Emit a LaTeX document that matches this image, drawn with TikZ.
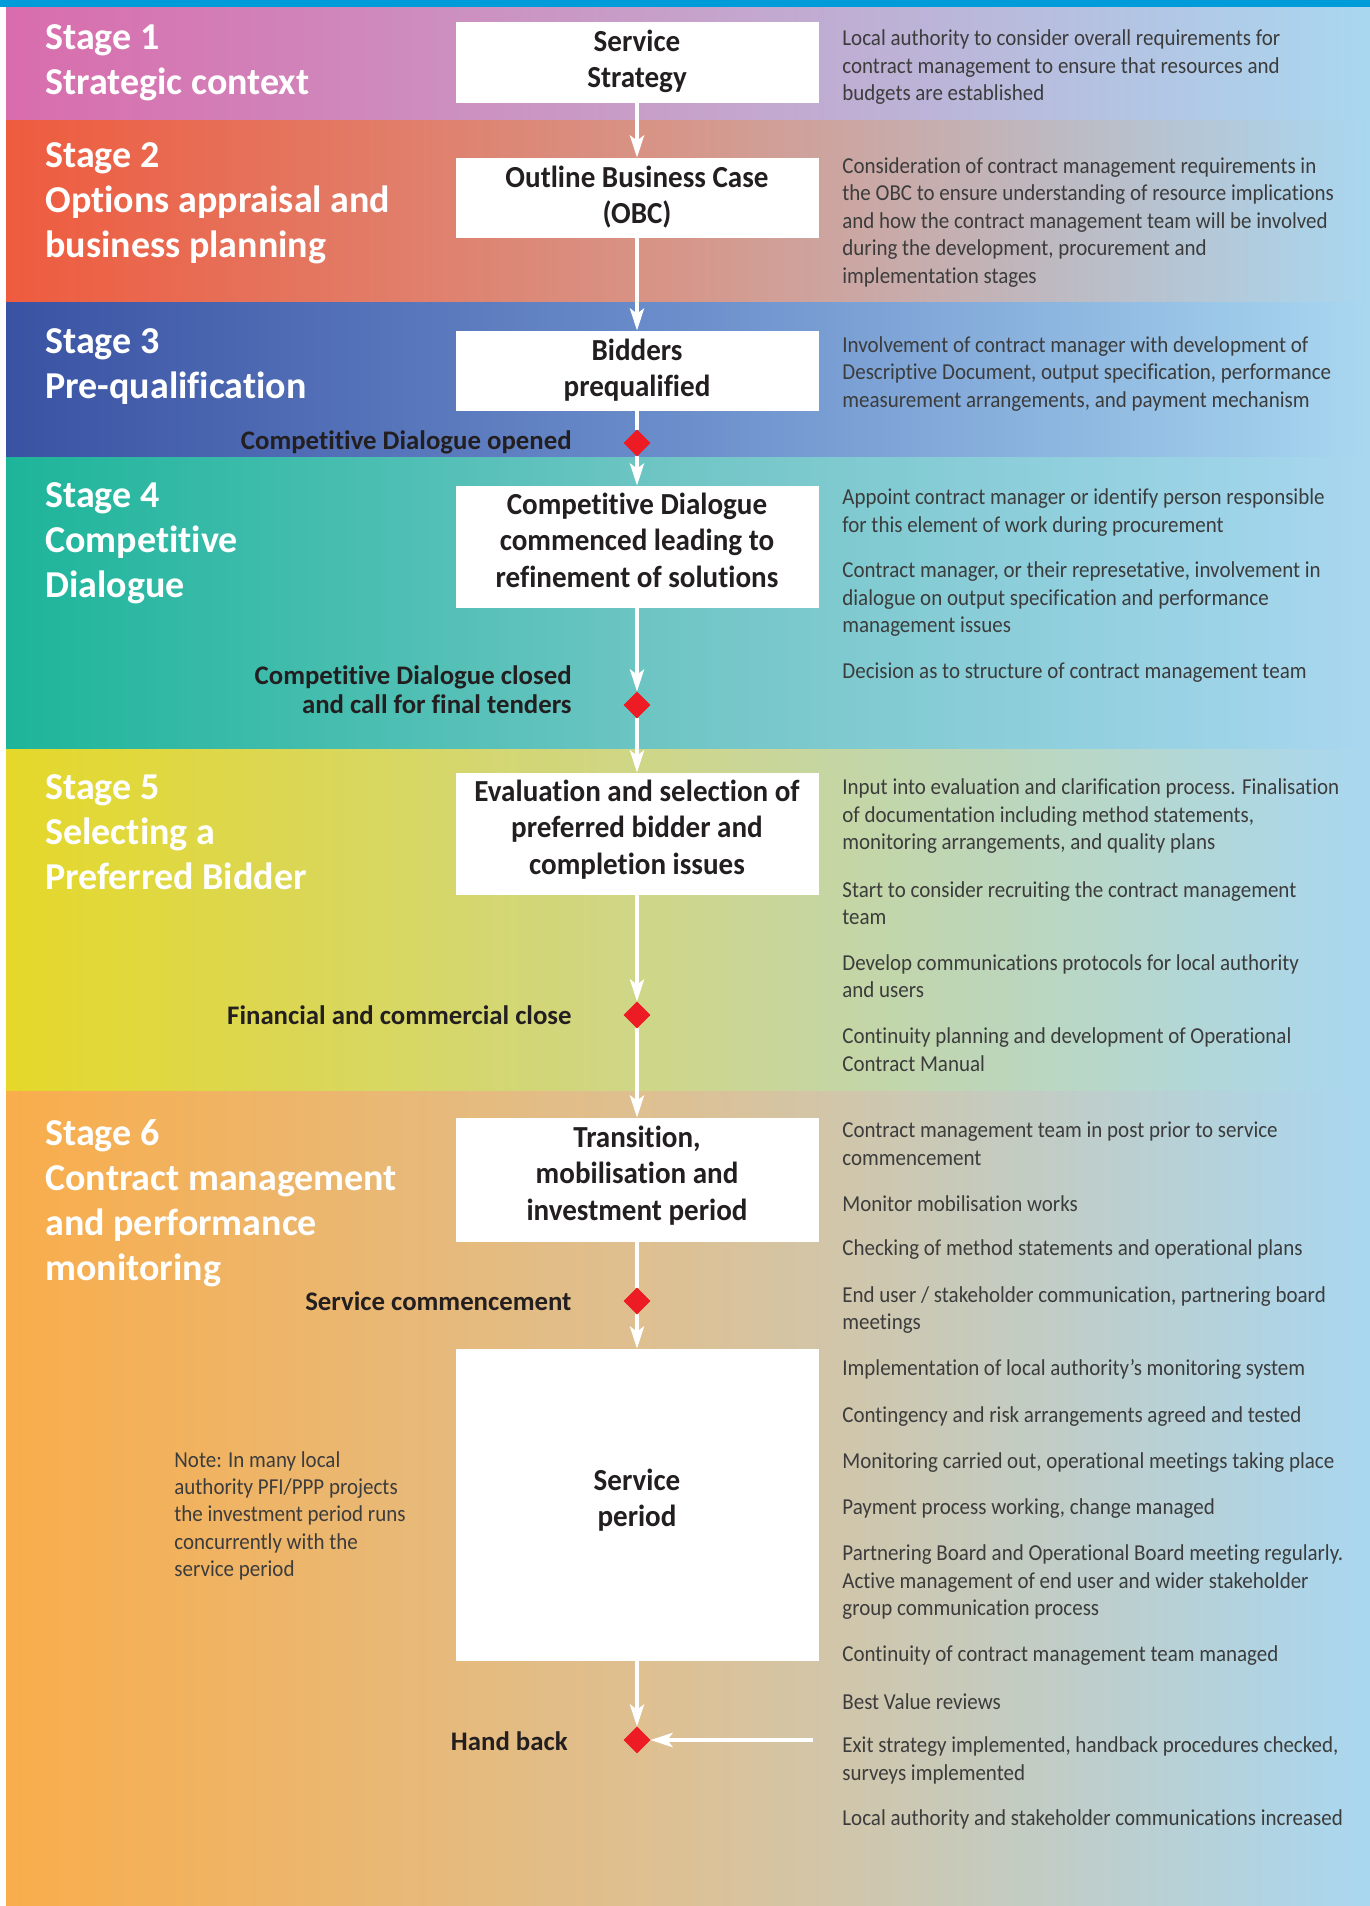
\documentclass[tikz,border=0pt]{standalone}
\usepackage{fontspec}
\defaultfontfeatures{Ligatures={TeX,NoCommon}}
\setmainfont{Carlito}
\newfontfamily\infofont[FakeStretch=0.92]{Carlito}
\newfontfamily\boxfont[FakeStretch=0.95]{Carlito}
\usepackage{tikz}
\usepackage{xcolor}
\usetikzlibrary{shapes,arrows,arrows.meta,positioning,calc}
\definecolor{topBlue}{RGB}{0,155,217}
\definecolor{paleBlue}{RGB}{169,215,240}
\definecolor{stageOne}{RGB}{217,108,172}
\definecolor{stageOneMid}{RGB}{198,162,203}
\definecolor{stageTwo}{RGB}{239,91,62}
\definecolor{stageTwoMid}{RGB}{214,151,138}
\definecolor{stageThree}{RGB}{58,82,163}
\definecolor{stageThreeMid}{RGB}{108,143,204}
\definecolor{stageFour}{RGB}{29,181,154}
\definecolor{stageFourMid}{RGB}{114,198,198}
\definecolor{stageFive}{RGB}{229,216,42}
\definecolor{stageFiveMid}{RGB}{205,214,142}
\definecolor{stageSix}{RGB}{249,173,75}
\definecolor{stageSixMid}{RGB}{220,193,150}
\definecolor{milestoneRed}{RGB}{237,28,36}
\definecolor{inkGrey}{RGB}{60,60,60}
\definecolor{inkBlack}{RGB}{35,31,32}

\begin{document}
\begin{tikzpicture}[x=0.5pt,y=-0.5pt,
    stagebox/.style={fill=white,minimum width=181.5pt,inner sep=0pt,align=center,text=inkBlack,
        text depth=7pt,font=\boxfont\bfseries\fontsize{15.3}{18.2}\selectfont},
    milestone/.style={diamond,fill=milestoneRed,inner sep=0pt,minimum width=13pt,minimum height=13pt},
    flow/.style={white,line width=2pt,-{Stealth[length=11pt,width=7pt,inset=2.5pt]}},
    link/.style={white,line width=2pt},
    stagetitle/.style={anchor=west,inner sep=0pt,align=left,text=white,
        font=\bfseries\fontsize{19}{22.5}\selectfont},
    infotext/.style={anchor=west,inner sep=0pt,align=left,text=inkGrey,
        font=\infofont\fontsize{11.4}{13.7}\selectfont},
    eventlabel/.style={anchor=east,inner sep=0pt,align=right,text=inkBlack,
        font=\bfseries\fontsize{13.4}{14.5}\selectfont}]
    \useasboundingbox (0,0) rectangle (1370,1906);

    % stage bands
    \fill[topBlue] (0,0) rectangle (1370,7);
    \fill[left color=stageOne,right color=paleBlue,middle color=stageOneMid] (6,7) rectangle (1370,120);
    \fill[left color=stageTwo,right color=paleBlue,middle color=stageTwoMid] (6,120) rectangle (1370,302);
    \fill[left color=stageThree,right color=paleBlue,middle color=stageThreeMid] (6,302) rectangle (1370,457);
    \fill[left color=stageFour,right color=paleBlue,middle color=stageFourMid] (6,457) rectangle (1370,749);
    \fill[left color=stageFive,right color=paleBlue,middle color=stageFiveMid] (6,749) rectangle (1370,1091);
    \fill[left color=stageSix,right color=paleBlue,middle color=stageSixMid] (6,1091) rectangle (1370,1906);

    % stage titles
    \node[stagetitle] (t1) at (45,63) {Stage 1\\Strategic context};
    \node[stagetitle] (t2) at (45,203.4) {Stage 2\\Options appraisal and\\business planning};
    \node[stagetitle] (t3) at (45,366.9) {Stage 3\\Pre-qualification};
    \node[stagetitle] (t4) at (45,543.7) {Stage 4\\Competitive\\Dialogue};
    \node[stagetitle] (t5) at (45,832.4) {Stage 5\\Selecting a\\Preferred Bidder};
    \node[stagetitle] (t6) at (45,1203.2) {Stage 6\\Contract management\\and performance\\monitoring};

    % process boxes
    \node[stagebox,text depth=3.5pt,minimum height=40.5pt] (strategy) at (637,62.5) {Service\\Strategy};
    \node[stagebox,text depth=3.5pt,minimum height=40pt] (obc) at (637,198) {Outline Business Case\\(OBC)};
    \node[stagebox,text depth=3.5pt,minimum height=40pt] (bidders) at (637,371) {Bidders\\prequalified};
    \node[stagebox,minimum height=61pt] (dialogue) at (637,547) {Competitive Dialogue\\commenced leading to\\refinement of solutions};
    \node[stagebox,minimum height=61pt] (evaluation) at (637,834) {Evaluation and selection of\\preferred bidder and\\completion issues};
    \node[stagebox,minimum height=62pt] (transition) at (637,1180) {Transition,\\mobilisation and\\investment period};
    \node[stagebox,minimum height=156pt] (service) at (637,1505) {Service\\period};

    % milestones
    \node[milestone] (dopen) at (637,443) {};
    \node[milestone] (dclose) at (637,705) {};
    \node[milestone] (dfinance) at (637,1015) {};
    \node[milestone] (dservice) at (637,1301) {};
    \node[milestone] (dhand) at (637,1740) {};

    \node[eventlabel] (lopen) at (572,442.5) {Competitive Dialogue opened};
    \node[eventlabel] (lclose) at (572,689.2) {Competitive Dialogue closed\\and call for final tenders};
    \node[eventlabel] (lfinance) at (572,1015) {Financial and commercial close};
    \node[eventlabel] (lservice) at (572,1300.7) {Service commencement};
    \node[eventlabel] (lhand) at (568,1740.7) {Hand back};

    % connectors
    \draw[flow] (strategy) -- (obc);
    \draw[flow] (obc) -- (bidders);
    \draw[link] (bidders) -- (dopen);
    \draw[flow] (dopen) -- (dialogue);
    \draw[flow] (dialogue) -- (dclose);
    \draw[flow] (dclose) -- (evaluation);
    \draw[flow] (evaluation) -- (dfinance);
    \draw[flow] (dfinance) -- (transition);
    \draw[link] (transition) -- (dservice);
    \draw[flow] (dservice) -- (service);
    \draw[flow] (service) -- (dhand);
    \coordinate (handstart) at (813,1740);
    \draw[flow] (handstart) -- (dhand);

    % redraw milestones on top
    \foreach \m in {dopen,dclose,dfinance,dservice,dhand}
        \fill[milestoneRed] (\m.north) -- (\m.east) -- (\m.south) -- (\m.west) -- cycle;

    % right-hand notes
    \node[infotext] (i1) at (842,67.2) {Local authority to consider overall requirements for\\contract management to ensure that resources and\\budgets are established};
    \node[infotext] (i2) at (842,222.4) {Consideration of contract management requirements in\\the OBC to ensure understanding of resource implications\\and how the contract management team will be involved\\during the development, procurement and\\implementation stages};
    \node[infotext] (i3) at (842,373.8) {Involvement of contract manager with development of\\Descriptive Document, output specification, performance\\measurement arrangements, and payment mechanism};
    \node[infotext] (i4a) at (842,512.4) {Appoint contract manager or identify person responsible\\for this element of work during procurement};
    \node[infotext] (i4b) at (842,599.3) {Contract manager, or their represetative, involvement in\\dialogue on output specification and performance\\management issues};
    \node[infotext] (i4c) at (842,672.2) {Decision as to structure of contract management team};
    \node[infotext] (i5a) at (842,816.2) {Input into evaluation and clarification process. Finalisation\\of documentation including method statements,\\monitoring arrangements, and quality plans};
    \node[infotext] (i5b) at (842,903.2) {Start to consider recruiting the contract management\\team};
    \node[infotext] (i5c) at (842,976.1) {Develop communications protocols for local authority\\and users};
    \node[infotext] (i5d) at (842,1049.6) {Continuity planning and development of Operational\\Contract Manual};
    \node[infotext] (i6a) at (842,1143.8) {Contract management team in post prior to service\\commencement};
    \node[infotext] (i6b) at (842,1203.4) {Monitor mobilisation works};
    \node[infotext] (i6c) at (842,1249.6) {Checking of method statements and operational plans};
    \node[infotext] (i6d) at (842,1309.8) {End user / stakeholder communication, partnering board\\meetings};
    \node[infotext] (i6e) at (842,1369.9) {Implementation of local authority’s monitoring system};
    \node[infotext] (i6f) at (842,1416.1) {Contingency and risk arrangements agreed and tested};
    \node[infotext] (i6g) at (842,1462.4) {Monitoring carried out, operational meetings taking place};
    \node[infotext] (i6h) at (842,1508.5) {Payment process working, change managed};
    \node[infotext] (i6i) at (842,1582.1) {Partnering Board and Operational Board meeting regularly.\\Active management of end user and wider stakeholder\\group communication process};
    \node[infotext] (i6j) at (842,1655.6) {Continuity of contract management team managed};
    \node[infotext] (i6k) at (842,1701.8) {Best Value reviews};
    \node[infotext] (i6l) at (842,1760.2) {Exit strategy implemented, handback procedures checked,\\surveys implemented};
    \node[infotext] (i6m) at (842,1819.7) {Local authority and stakeholder communications increased};

    \node[infotext] (note) at (174,1515.8) {Note: In many local\\authority PFI/PPP projects\\the investment period runs\\concurrently with the\\service period};
\end{tikzpicture}
\end{document}
